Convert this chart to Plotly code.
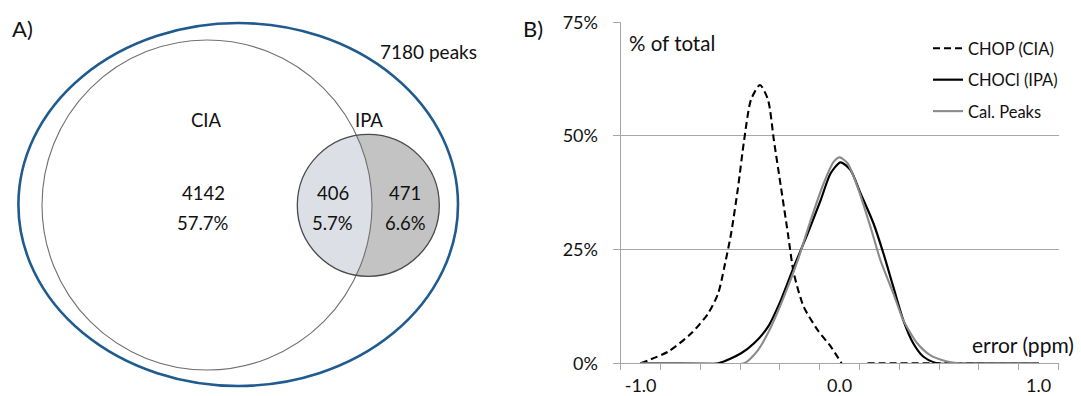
import numpy as np
import plotly.graph_objects as go

# ---------------- data ----------------
# Panel A: Venn counts
venn_labels = ["CIA", "IPA"]
venn_counts = [4142, 406, 471]
venn_pcts = ["57.7%", "5.7%", "6.6%"]
total_label = "7180 peaks"

# Panel B: error distributions (fraction of total)
chop_x = [-1.0, -0.86, -0.745, -0.66, -0.61, -0.58, -0.545, -0.51, -0.48, -0.445, -0.40,
          -0.36, -0.33, -0.295, -0.26, -0.23, -0.18, -0.11, -0.045, 0.01, None, 0.14, 0.6, 1.0]
chop_y = [0.0, 0.026, 0.066, 0.11, 0.154, 0.21, 0.286, 0.388, 0.49, 0.58, 0.612,
          0.58, 0.49, 0.388, 0.286, 0.198, 0.124, 0.073, 0.037, 0.0, None, 0.0, 0.0, 0.0]

chocl_x = [-1.0, -0.8, -0.61, -0.495, -0.43, -0.36, -0.295, -0.23, -0.16, -0.095, -0.045,
           0.005, 0.055, 0.105, 0.17, 0.22, 0.27, 0.32, 0.37, 0.42, 0.49, 0.7, 1.0]
chocl_y = [0.0, 0.0, 0.0, 0.022, 0.044, 0.08, 0.139, 0.212, 0.286, 0.359, 0.418,
           0.442, 0.425, 0.374, 0.308, 0.242, 0.168, 0.095, 0.044, 0.015, 0.0, 0.0, 0.0]

cal_x = [-1.0, -0.7, -0.48, -0.41, -0.345, -0.28, -0.21, -0.145, -0.08, -0.03, 0.0,
         0.04, 0.09, 0.155, 0.205, 0.27, 0.32, 0.39, 0.455, 0.54, 0.6, 0.8, 1.0]
cal_y = [0.0, 0.0, 0.0, 0.029, 0.08, 0.146, 0.227, 0.315, 0.396, 0.443, 0.453,
         0.44, 0.388, 0.30, 0.227, 0.154, 0.095, 0.044, 0.018, 0.004, 0.0, 0.0, 0.0]

series_names = ["CHOP (CIA)", "CHOCl (IPA)", "Cal. Peaks"]
y_tickvals = [0, 0.25, 0.5, 0.75]
x_tickvals = [-1.0, 0.0, 1.0]
x_ticktext = ["-1.0", "0.0", "1.0"]

# ---------------- style ----------------
FONT = "Lato, Carlito, Calibri, sans-serif"
W, H = 1081, 396
GRID = "#a6a6a6"
TXT = "#111111"

# Venn geometry (pixel units in the left panel)
outer = dict(cx=238.2, cy=204.5, rx=219.8, ry=181.5)
big = dict(cx=207.0, cy=205.0, r=165.0)
small = dict(cx=368.3, cy=205.3, r=71.0)

fig = go.Figure()

lines = [
    (chop_x, chop_y, dict(color="black", width=2.1, dash="7px,4px")),
    (chocl_x, chocl_y, dict(color="black", width=2.2)),
    (cal_x, cal_y, dict(color="#8a8a8a", width=2.1)),
]
for i, (xs, ys, ln) in enumerate(lines):
    fig.add_trace(go.Scatter(
        x=xs, y=ys, mode="lines", name=series_names[i],
        line=dict(shape="spline", smoothing=0.7, **ln),
        connectgaps=False, legendgroup=f"g{i}",
        xaxis="x", yaxis="y",
    ))

# ----- lens path for the Venn intersection -----
c1 = np.array([big["cx"], big["cy"]]); r1 = big["r"]
c2 = np.array([small["cx"], small["cy"]]); r2 = small["r"]
d = np.linalg.norm(c2 - c1)
a = (r1**2 - r2**2 + d**2) / (2 * d)
h = np.sqrt(r1**2 - a**2)
u = (c2 - c1) / d
perp = np.array([-u[1], u[0]])
p_a = c1 + a * u + h * perp
p_b = c1 + a * u - h * perp
ang1a = np.arctan2(*(p_a - c1)[::-1]); ang1b = np.arctan2(*(p_b - c1)[::-1])
ang2a = np.arctan2(*(p_a - c2)[::-1]); ang2b = np.arctan2(*(p_b - c2)[::-1])
t1 = np.linspace(ang1b, ang1a, 60)
if ang2b < ang2a:
    ang2b += 2 * np.pi
t2 = np.linspace(ang2a, ang2b, 80)
pts = [(c1[0] + r1 * np.cos(t), c1[1] + r1 * np.sin(t)) for t in t1]
pts += [(c2[0] + r2 * np.cos(t), c2[1] + r2 * np.sin(t)) for t in t2]
lens_path = "M " + " L ".join(f"{x:.2f},{y:.2f}" for x, y in pts) + " Z"

shapes = [
    dict(type="circle", xref="x2", yref="y2",
         x0=outer["cx"] - outer["rx"], x1=outer["cx"] + outer["rx"],
         y0=outer["cy"] - outer["ry"], y1=outer["cy"] + outer["ry"],
         line=dict(color="#1f5b8f", width=2.6), layer="above"),
    dict(type="circle", xref="x2", yref="y2",
         x0=small["cx"] - small["r"], x1=small["cx"] + small["r"],
         y0=small["cy"] - small["r"], y1=small["cy"] + small["r"],
         fillcolor="#c3c3c3", line=dict(width=0), layer="above"),
    dict(type="path", xref="x2", yref="y2", path=lens_path,
         fillcolor="#dcdfe5", line=dict(width=0), layer="above"),
    dict(type="circle", xref="x2", yref="y2",
         x0=big["cx"] - big["r"], x1=big["cx"] + big["r"],
         y0=big["cy"] - big["r"], y1=big["cy"] + big["r"],
         line=dict(color="#707070", width=1.1), layer="above"),
    dict(type="circle", xref="x2", yref="y2",
         x0=small["cx"] - small["r"], x1=small["cx"] + small["r"],
         y0=small["cy"] - small["r"], y1=small["cy"] + small["r"],
         line=dict(color="#4a4a4a", width=1.3), layer="above"),
]

def ann(text, x, y, size=18.5, xanchor="center", ref="x2"):
    base = dict(text=text, xanchor=xanchor, yanchor="middle", showarrow=False,
                font=dict(family=FONT, size=size, color=TXT))
    if ref == "x2":
        base.update(x=x, y=y, xref="x2", yref="y2")
    else:
        base.update(x=x / W, y=1 - y / H, xref="paper", yref="paper")
    return base

annotations = [
    ann("A)", 10, 28, size=22, xanchor="left"),
    ann("B)", 521, 28, size=22, xanchor="left"),
    ann(total_label, 428, 51, size=19),
    ann(venn_labels[0], 206, 120),
    ann(venn_labels[1], 369, 120),
    ann(str(venn_counts[0]), 203, 193),
    ann(venn_pcts[0], 203, 223),
    ann(str(venn_counts[1]), 333, 193),
    ann(venn_pcts[1], 332, 223),
    ann(str(venn_counts[2]), 405, 193),
    ann(venn_pcts[2], 405, 223),
    ann("% of total", 627, 43, size=20.5, xanchor="left", ref="paper"),
    ann("error (ppm)", 1076, 344, size=21, xanchor="right", ref="paper"),
]

fig.update_layout(
    width=W, height=H, margin=dict(l=0, r=0, t=0, b=0, autoexpand=False),
    paper_bgcolor="white", plot_bgcolor="white",
    font=dict(family=FONT, size=17, color=TXT),
    xaxis=dict(domain=[620.7 / W, 1058.5 / W], range=[-1.1, 1.1],
               tickvals=x_tickvals, ticktext=x_ticktext, ticks="", showgrid=False,
               zeroline=False, showline=True, linecolor=GRID, linewidth=1.3,
               minor=dict(tick0=-1.1, dtick=0.2, ticks="outside", ticklen=6,
                          tickcolor=GRID, tickwidth=1.3, showgrid=False),
               ticklabelstandoff=6, tickfont=dict(family=FONT, size=18)),
    yaxis=dict(domain=[1 - 363.3 / H, 1 - 22.3 / H], range=[0, 0.75],
               tickvals=y_tickvals, tickformat=".0%", ticks="outside", ticklen=7,
               tickcolor=GRID, tickwidth=1.3, showgrid=True, gridcolor=GRID, gridwidth=1.3,
               zeroline=False, showline=True, linecolor=GRID, linewidth=1.3,
               ticklabelstandoff=11, tickfont=dict(family=FONT, size=18)),
    xaxis2=dict(domain=[0, 540.5 / W], range=[0, 540.5], visible=False, fixedrange=True),
    yaxis2=dict(domain=[0, 1], range=[396, 0], visible=False, fixedrange=True),
    shapes=shapes, annotations=annotations,
    showlegend=True,
    legend=dict(x=928 / W, y=1 - 31 / H, xanchor="left", yanchor="top",
                bgcolor="rgba(0,0,0,0)", borderwidth=0, traceorder="grouped",
                tracegroupgap=7, font=dict(family=FONT, size=16.5, color=TXT),
                itemwidth=30),
)

fig.write_html(
    "out.html",
    config={"displayModeBar": False},
    post_script="document.body.style.margin='0';document.body.style.overflow='hidden';",
)
